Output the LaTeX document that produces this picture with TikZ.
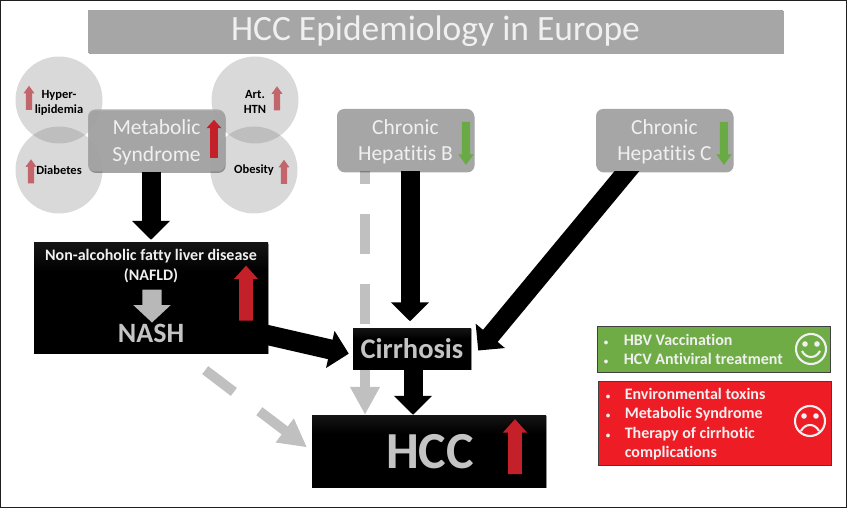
\documentclass[tikz,border=0pt]{standalone}
\usepackage{fontspec}
\setmainfont{Carlito}[Ligatures=NoCommon]
\usetikzlibrary{arrows.meta,shapes.arrows,shadows,backgrounds}
\definecolor{boxgray}{HTML}{A6A6A6}
\definecolor{softwhite}{HTML}{F0F0F0}
\definecolor{darktext}{HTML}{C4C4C4}
\definecolor{paletrig}{HTML}{C2666C}
\definecolor{strongred}{HTML}{C4202A}
\definecolor{downgreen}{HTML}{6AAA44}
\definecolor{goodgreen}{HTML}{6FAC46}
\definecolor{badred}{HTML}{EE1C25}
\definecolor{dashgray}{HTML}{C0C0C0}
\pgfdeclareverticalshading{blackfade}{100bp}{color(0bp)=(black); color(62bp)=(black); color(75bp)=(black!92!white); color(100bp)=(black!72!white)}
\begin{document}
\begin{tikzpicture}[
    x=1pt, y=-1pt,
    softshadow/.style={
        drop shadow={shadow xshift=0.6pt, shadow yshift=-1.4pt, opacity=.35, fill=black}
    },
    graybox/.style={
        softshadow,
        fill=boxgray,
        rounded corners=2.5mm,
        minimum width=137pt,
        minimum height=62pt,
        inner sep=0pt,
        align=center,
        text=softwhite,
        text height=45pt,
        font=\fontsize{21.5}{26.5}\selectfont
    },
    blackbox/.style={
        softshadow,
        shading=blackfade,
        inner sep=0pt,
        align=center
    },
    riskcircle/.style={
        circle,
        fill=black!50,
        fill opacity=.3,
        text opacity=1,
        minimum size=87pt,
        inner sep=0pt,
        align=center,
        font=\fontsize{12.5}{15}\selectfont\bfseries
    },
    tallrisk/.style={
        riskcircle,
        text height=28pt
    },
    listbox/.style={
        draw=black!75,
        line width=.8pt,
        minimum width=233pt,
        inner sep=0pt
    },
    listtext/.style={
        anchor=west,
        align=left,
        inner sep=0pt,
        text=softwhite,
        font=\fontsize{16}{19.3}\selectfont\bfseries
    },
    blockarr/.style={
        -{Triangle[length=19pt,width=37pt]},
        line width=19pt
    },
    dasharr/.style={
        -{Triangle[length=28pt,width=28pt]},
        line width=10pt,
        draw=dashgray,
        color=dashgray
    },
    trendmark/.style={
        single arrow,
        single arrow tip angle=72
    },
    riskup/.style={
        trendmark,
        fill=paletrig,
        shape border rotate=90,
        inner sep=3pt,
        minimum height=24pt,
        single arrow head extend=2.25pt
    },
    bigup/.style={
        trendmark,
        fill=strongred,
        shape border rotate=90,
        inner sep=6.7pt,
        minimum height=55pt,
        single arrow head extend=5.25pt,
        single arrow tip angle=84
    },
    greendown/.style={
        trendmark,
        fill=downgreen,
        shape border rotate=270,
        inner sep=4pt,
        minimum height=43pt,
        single arrow head extend=3.5pt
    },
    faceline/.style={
        draw=softwhite,
        line width=2.1pt
    }
]
    \useasboundingbox (0,0) rectangle (847,508);
    \draw[black!88, line width=1.1pt] (0.5,0.5) rectangle (846.4,507.4);

    \node[softshadow, fill=boxgray, minimum width=695pt, minimum height=43pt, inner sep=0pt,
        text=softwhite, font=\fontsize{35.5}{38}\selectfont] (title) at (435.5,31.5)
        {HCC Epidemiology in Europe};

    % Risk factors round the metabolic box
    \node[tallrisk] (hyper) at (59,100) {Hyper-\\lipidemia};
    \node[tallrisk] (arthtn) at (255,100) {Art.\\HTN};
    \node[riskcircle] (diabetes) at (59,170) {Diabetes};
    \node[riskcircle] (obesity) at (254,170) {Obesity};

    \node[graybox, fill opacity=.9, text opacity=1] (metabolic) at (156.5,140.5)
        {Metabolic\\Syndrome};
    \node[graybox] (hepb) at (405.5,140) {Chronic\\Hepatitis B};
    \node[graybox] (hepc) at (664.5,140) {Chronic\\Hepatitis C};

    \node[blackbox, minimum width=234pt, minimum height=110pt] (nafld) at (151,298) {};
    \node[align=center, inner sep=0pt, text=softwhite,
        font=\fontsize{16}{20}\selectfont\bfseries] (nafldtext) at (151,266.5)
        {Non-alcoholic fatty liver disease\\(NAFLD)};
    \node[text=darktext, inner sep=0pt, font=\fontsize{28}{30}\selectfont\bfseries] (nash) at (151,333) {NASH};

    \node[blackbox, minimum width=118pt, minimum height=41pt, text=darktext,
        font=\fontsize{28.5}{30}\selectfont\bfseries] (cirrhosis) at (412,348.5) {Cirrhosis};
    \node[blackbox, minimum width=234pt, minimum height=72pt] (hcc) at (429,451) {};
    \node[text=darktext, inner sep=0pt, font=\fontsize{52}{54}\selectfont\bfseries] (hcctext) at (430,452) {HCC};

    % Trend marks
    \node[riskup] (hyperup) at (29,100) {};
    \node[riskup] (diabetesup) at (31,173.5) {};
    \node[riskup] (arthtnup) at (277,100.5) {};
    \node[riskup] (obesityup) at (284,174) {};
    \node[bigup, inner sep=3.7pt, minimum height=38pt, single arrow head extend=3.6pt] (metabolicup) at (214,141) {};
    \node[bigup] (nafldup) at (246,297) {};
    \node[bigup] (hccup) at (515,450.5) {};
    \node[greendown] (hepbdown) at (466,140.5) {};
    \node[greendown] (hepcdown) at (724,140.5) {};
    \node[single arrow, inner sep=9.5pt, fill=black!28, shape border rotate=270, minimum height=33pt,
        single arrow head extend=9pt, single arrow tip angle=94] (nashdown) at (152,301.5) {};

    % Lists with the faces
    \node[listbox, fill=goodgreen, minimum height=46pt] (goodbox) at (713.5,349) {};
    \node[listbox, fill=badred, minimum height=84pt] (badbox) at (714.5,423) {};
    \node[listtext] (goodlist) at ([xshift=7pt, yshift=-0.7pt]goodbox.west)
        {\makebox[20pt][l]{\small•}HBV Vaccination\\\makebox[20pt][l]{\small•}HCV Antiviral treatment};
    \node[listtext] (badlist) at ([xshift=8pt, yshift=-1pt]badbox.west)
        {\makebox[19pt][l]{\small•}Environmental toxins\\\makebox[19pt][l]{\small•}Metabolic Syndrome\\\makebox[19pt][l]{\small•}Therapy of cirrhotic\\\hspace*{19pt}complications};

    \node[faceline, circle, minimum size=30pt, inner sep=0pt] (smile) at (811,349) {};
    \node[faceline, circle, minimum size=30pt, inner sep=0pt] (frown) at (810,421) {};
    \foreach \dx in {-6,6} {
        \fill[softwhite] ([xshift=\dx pt, yshift=5pt]smile.center) circle (2.8pt);
        \fill[softwhite] ([xshift=\dx pt, yshift=5pt]frown.center) circle (2.8pt);
    }
    \draw[faceline] ([xshift=-9pt, yshift=-2pt]smile.center) .. controls ([xshift=-5pt, yshift=-10pt]smile.center) and ([xshift=5pt, yshift=-10pt]smile.center) .. ([xshift=9pt, yshift=-2pt]smile.center);
    \draw[faceline] ([xshift=-9pt, yshift=-10pt]frown.center) .. controls ([xshift=-5pt, yshift=-2pt]frown.center) and ([xshift=5pt, yshift=-2pt]frown.center) .. ([xshift=9pt, yshift=-10pt]frown.center);

    % Arrows, behind the boxes
    \begin{scope}[on background layer]
        \draw[dasharr, dash pattern=on 40pt off 30pt, dash phase=27pt] ([xshift=-40.5pt]hepb.south) -- ([xshift=-40.5pt]hepb.south |- hcc.north);
        \draw[dasharr, dash pattern=on 36pt off 32pt, dash phase=40pt, shorten >=6pt] (nafld.-60) -- (hcc.west);
        \draw[blockarr] (nafld.north |- metabolic.south) -- ([yshift=3pt]nafld.north);
        \draw[blockarr] ([xshift=4.5pt]hepb.south) -- ([xshift=-2pt, yshift=6.5pt]cirrhosis.north);
        \draw[blockarr] ([xshift=-20pt, yshift=-10pt]hepc.center) -- ([xshift=7pt, yshift=-2pt]cirrhosis.east);
        \draw[blockarr, line width=20pt] ([xshift=99pt, yshift=-33pt]nafld.center) -- ([xshift=-4pt]cirrhosis.185);
        \draw[blockarr] ([xshift=1pt]cirrhosis.south) -- ([xshift=1pt]cirrhosis.south |- hcc.north);
    \end{scope}
\end{tikzpicture}
\end{document}
